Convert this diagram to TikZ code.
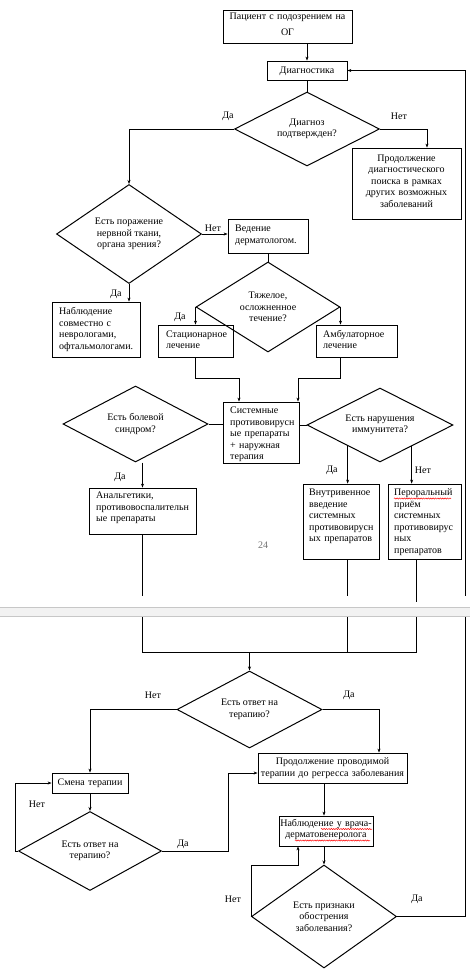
\documentclass[tikz,border=0pt]{standalone}
\usepackage{fontspec}
\setmainfont{Liberation Serif}
\usetikzlibrary{shapes.geometric,arrows.meta,decorations.pathmorphing}
\newcommand\mkbox[5]{\node[boxst, minimum width={#4-#2}, minimum height={#5-#3}] (#1) at ({(#2+#4)/2},{(#3+#5)/2}) {};}
\begin{document}
\begin{tikzpicture}[x=1pt,y=-1pt,
  every node/.style={font=\fontsize{10}{11.5}\selectfont},
  boxst/.style={draw, line width=0.8pt, inner sep=0pt, rectangle},
  dmd/.style={draw, diamond, shape aspect=2, line width=1pt, inner sep=0pt, align=center},
  txl/.style={anchor=base west, align=left, inner sep=0pt, text width=110pt},
  txc/.style={anchor=base, align=center, inner sep=0pt, text width=#1},
  lbl/.style={inner sep=0pt},
  conn/.style={line width=0.8pt},
  arr/.style={conn, -{Stealth[length=4pt,width=3pt]}},
  wavy/.style={red, line width=0.5pt, decorate, decoration={snake, amplitude=0.6pt, segment length=2.4pt}}
]
\useasboundingbox (0,0) rectangle (470,970);

% boxes
\mkbox{start}{223}{10}{352}{43}
\mkbox{diag}{267}{61}{347}{80}
\mkbox{cont}{352}{148}{461}{219}
\mkbox{ved}{228}{219}{308}{253}
\mkbox{nabl1}{52}{302}{140}{357}
\mkbox{stat}{158}{325}{233}{357}
\mkbox{amb}{316}{325}{397}{357}
\mkbox{sys}{223}{402}{299}{463}
\mkbox{ana}{89}{488}{196}{534}
\mkbox{iv}{303}{484}{379}{559}
\mkbox{po}{388}{484}{461}{559}
\mkbox{cont2}{258}{753}{407}{783}
\mkbox{smena}{52}{773}{128}{793}
\mkbox{nabl2}{279}{816}{373}{846}

% box texts
\node[txc=129pt] (tstart) at (287.5,19.5) {Пациент с подозрением на\\[4.5pt]ОГ};
\node[txc=80pt] (tdiag) at (307,73) {Диагностика};
\node[txc=109pt] (tcont) at (406.5,161) {Продолжение\\диагностического\\поиска в рамках\\других возможных\\заболеваний};
\node[txl] (tved) at (235,231.5) {Ведение\\дерматологом.};
\node[txl] (tnabl1) at (59,314.5) {Наблюдение\\совместно с\\неврологами,\\офтальмологами.};
\node[txl] (tstat) at (166,337) {Стационарное\\лечение};
\node[txl] (tamb) at (323,337) {Амбулаторное\\лечение};
\node[txl] (tsys) at (230,413.5) {Системные\\противовирусн\\ые препараты\\+ наружная\\терапия};
\node[txl] (tana) at (96,498.5) {Анальгетики,\\противовоспалительн\\ые препараты};
\node[txl] (tiv) at (309,495.5) {Внутривенное\\введение\\системных\\противовирусн\\ых препаратов};
\node[txl] (tpo) at (394,495.5) {Пероральный\\приём\\системных\\противовирус\\ных\\препаратов};
\node[txc=149pt] (tcont2) at (332.5,764.5) {Продолжение проводимой\\терапии до регресса заболевания};
\node[txc=76pt] (tsmena) at (90,785.5) {Смена терапии};
\node[txc=94pt] (tnabl2) at (326,826) {Наблюдение у врача-\\дерматовенеролога};

% diamonds
\node[dmd, minimum width=145pt, minimum height=74pt] (d1) at (307,129) {Диагноз\\подтвержден?};
\node[dmd, minimum width=145pt, minimum height=99pt] (d2) at (129,234) {Есть поражение\\нервной ткани,\\органа зрения?};
\node[dmd, minimum width=144pt, minimum height=90pt] (d3) at (268,307) {Тяжелое,\\осложненное\\течение?};
\node[dmd, minimum width=145pt, minimum height=76pt] (d4) at (135.5,424) {Есть болевой\\синдром?};
\node[dmd, minimum width=146pt, minimum height=74pt] (d5) at (380,425) {Есть нарушения\\иммунитета?};
\node[dmd, minimum width=145pt, minimum height=77pt] (d6) at (249.5,709.5) {Есть ответ на\\терапию?};
\node[dmd, minimum width=143pt, minimum height=79pt] (d7) at (90,851) {Есть ответ на\\терапию?};
\node[dmd, minimum width=145pt, minimum height=103pt] (d8) at (324,916.5) {Есть признаки\\обострения\\заболевания?};

% connectors
\draw[arr] (start.south -| diag.north) -- (diag.north);
\draw[conn] (diag.south) -- (d1.north);
\draw[arr] (d1.west) -| (d2.north);
\draw[arr] (d1.east) -| ([xshift=20.5pt]cont.north);
\draw[arr] (d2.east) -- (d2.east -| ved.west);
\draw[arr] (d2.south) -- (d2.south |- nabl1.north);
\draw[conn] (ved.south) -- (d3.north);
\draw[arr] (d3.west) -- (d3.west |- stat.north);
\draw[arr] (d3.east) -- (d3.east |- amb.north);
\draw[arr] (d3.west |- stat.south) -- ++(0,21) -| ([xshift=-22pt]sys.north);
\draw[arr] (d3.east |- amb.south) -- ++(0,21) -| ([xshift=37pt]sys.north);
\draw[conn] (d4.east) -- (d4.east -| sys.west);
\draw[conn] (sys.east |- d5.west) -- (d5.west);
\draw[arr] (ana.north |- d4.south) -- (ana.north);
\draw[arr] (d5.213) -- (d5.213 |- iv.north);
\draw[arr] (d5.326) -- (d5.326 |- po.north);
\coordinate (m) at (249.5,652);
\draw[conn] (ana.south) |- (m);
\draw[conn] (d5.213 |- iv.south) |- (m);
\draw[conn] ([xshift=-8.5pt]po.south) |- (m);
\draw[arr] (m) -- (d6.north);
\draw[arr] (d6.west) -| (smena.north);
\draw[arr] (d6.east) -| ([xshift=46.5pt]cont2.north);
\draw[arr] (smena.south) -- (d7.north);
\draw[arr] (d7.west) -- ++(-3,0) |- (smena.west);
\draw[arr] (d7.east) -- ++(66,0) |- ([yshift=-5pt]cont2.west);
\draw[arr] (cont2.south -| d8.north) -- (nabl2.north -| d8.north);
\draw[arr] (nabl2.south -| d8.north) -- (d8.north);
\draw[arr] (d8.west) -- ++(0,-51) -| ([xshift=-28pt]nabl2.south);
\draw[arr] (d8.east) -- ++(68,0) |- (diag.east);

% labels
\node[lbl] (l1) at (228,116) {Да};
\node[lbl] (l2) at (399,116) {Нет};
\node[lbl] (l3) at (213,228) {Нет};
\node[lbl] (l4) at (116,294) {Да};
\node[lbl] (l5) at (180,317) {Да};
\node[lbl] (l6) at (120,477) {Да};
\node[lbl] (l7) at (332,470) {Да};
\node[lbl] (l8) at (423,470) {Нет};
\node[lbl] (l9) at (153,695) {Нет};
\node[lbl] (l10) at (349,695) {Да};
\node[lbl] (l11) at (37,804) {Нет};
\node[lbl] (l12) at (183,844) {Да};
\node[lbl] (l13) at (233,899) {Нет};
\node[lbl] (l14) at (417,899) {Да};
\node[lbl, text=black!55] (pg) at (263,545) {24};

% spell-check underlines
\draw[wavy] (394,498.5) -- (451,498.5);
\draw[wavy] (321,829) -- (372,829);
\draw[wavy] (295,840.5) -- (370,840.5);

% page break band
\fill[white] (0,596) rectangle (410,607);
\fill[white] (410,602) rectangle (422,607);
\fill[white] (422,596) rectangle (470,607);
\fill[black!5] (0,607) rectangle (470,616);
\draw[black!22, line width=0.7pt] (0,607) -- (470,607) (0,616) -- (470,616);
\end{tikzpicture}
\end{document}
